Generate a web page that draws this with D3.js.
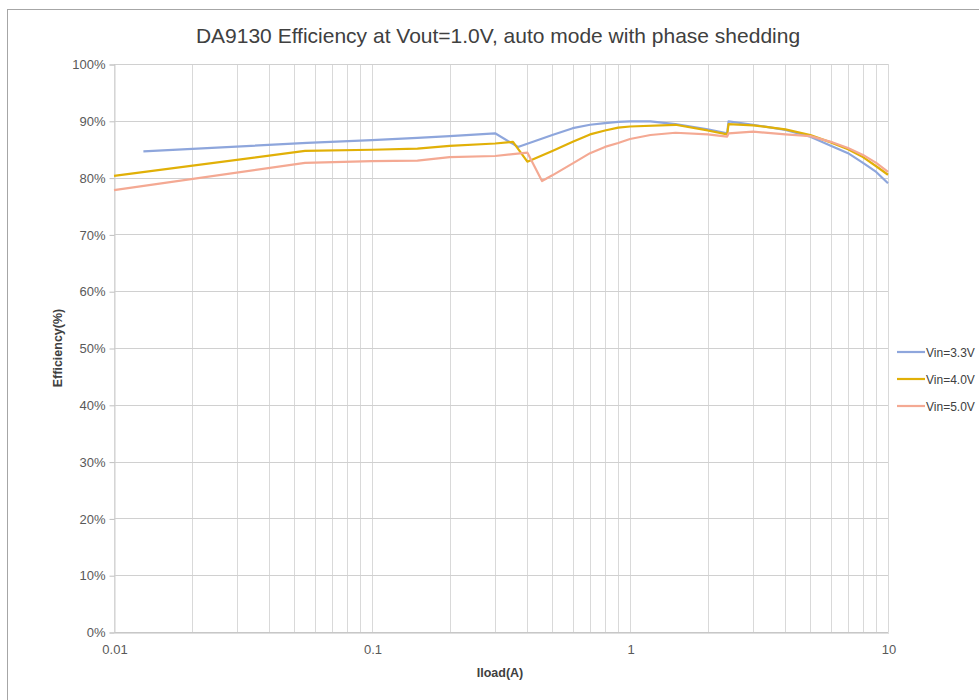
<!DOCTYPE html>
<html>
<head>
<meta charset="utf-8">
<script src="https://cdn.jsdelivr.net/npm/d3@7"></script>
<style>
  body { margin: 0; background: #fff; }
  svg { display: block; font-family: "Liberation Sans", Arial, sans-serif; }
</style>
</head>
<body>
<svg id="chart"></svg>
<script>
// ─── DA9130 efficiency chart ──────────────────────────────

const TITLE = "DA9130 Efficiency at Vout=1.0V, auto mode with phase shedding";
const X_LABEL = "Iload(A)";
const Y_LABEL = "Efficiency(%)";

const X_TICKS = [0.01, 0.1, 1, 10];
const X_TICK_LABELS = ["0.01", "0.1", "1", "10"];
const Y_TICKS = [0, 10, 20, 30, 40, 50, 60, 70, 80, 90, 100];

// Vin=3.3V
const vin33_x = [0.013, 0.056, 0.1, 0.15, 0.2, 0.3, 0.368, 0.5, 0.6, 0.7, 0.8, 0.9, 1, 1.2, 1.5, 2, 2.38, 2.41, 3, 4, 5, 6, 7, 8, 9, 10];
const vin33_y = [84.6, 86.1, 86.6, 87.0, 87.3, 87.8, 85.4, 87.5, 88.7, 89.3, 89.6, 89.8, 89.9, 89.9, 89.4, 88.5, 87.8, 89.9, 89.3, 88.4, 87.2, 85.6, 84.3, 82.6, 81.0, 79.0];

// Vin=4.0V
const vin40_x = [0.01, 0.055, 0.1, 0.15, 0.2, 0.3, 0.352, 0.4, 0.5, 0.6, 0.7, 0.8, 0.9, 1, 1.5, 2, 2.38, 2.41, 3, 4, 5, 6, 7, 8, 9, 10];
const vin40_y = [80.3, 84.7, 84.9, 85.1, 85.6, 86.0, 86.3, 82.8, 84.7, 86.3, 87.6, 88.3, 88.8, 89.0, 89.3, 88.3, 87.6, 89.4, 89.2, 88.5, 87.5, 86.2, 85.0, 83.6, 82.0, 80.5];

// Vin=5.0V
const vin50_x = [0.01, 0.055, 0.1, 0.15, 0.2, 0.3, 0.4, 0.456, 0.5, 0.6, 0.7, 0.8, 0.9, 1, 1.2, 1.5, 2, 2.38, 2.41, 3, 4, 5, 6, 7, 8, 9, 10];
const vin50_y = [77.8, 82.6, 82.9, 83.0, 83.6, 83.8, 84.4, 79.4, 80.4, 82.5, 84.3, 85.4, 86.1, 86.8, 87.5, 87.9, 87.6, 87.2, 87.8, 88.1, 87.6, 87.3, 86.3, 85.2, 84.0, 82.6, 81.0];

const SERIES_NAMES = ["Vin=3.3V", "Vin=4.0V", "Vin=5.0V"];
const SERIES_COLORS = ["#8ea6dc", "#e1b007", "#f4a993"];

const width = 979, height = 700;
const margin = { top: 64, right: 91, bottom: 68, left: 114 };

const svg = d3.select("#chart").attr("width", width).attr("height", height);

// Chart frame (only left and top edges are visible in the window)
svg.append("rect")
  .attr("x", 7.5).attr("y", 9.5)
  .attr("width", 1000).attr("height", 720)
  .attr("fill", "#fff")
  .attr("stroke", "#a6a6a6")
  .attr("stroke-width", 1);

const x = d3.scaleLog()
  .domain([0.01, 10])
  .range([margin.left, width - margin.right]);

const y = d3.scaleLinear()
  .domain([0, 100])
  .range([height - margin.bottom, margin.top]);

// Vertical grid: every minor log step
const minorTicks = [];
[0.01, 0.1, 1].forEach(dec => {
  for (let k = 1; k <= 10; k++) minorTicks.push(dec * k);
});

svg.append("g").attr("class", "x-grid")
  .selectAll("line")
  .data(minorTicks)
  .join("line")
  .attr("x1", d => Math.round(x(d)) + 0.5)
  .attr("x2", d => Math.round(x(d)) + 0.5)
  .attr("y1", y(100))
  .attr("y2", y(0))
  .attr("stroke", "#d9d9d9")
  .attr("stroke-width", 1);

// Horizontal grid
svg.append("g").attr("class", "y-grid")
  .selectAll("line")
  .data(Y_TICKS)
  .join("line")
  .attr("x1", x(0.01))
  .attr("x2", x(10))
  .attr("y1", d => Math.round(y(d)) + 0.5)
  .attr("y2", d => Math.round(y(d)) + 0.5)
  .attr("stroke", "#d0d0d0")
  .attr("stroke-width", 1);

// Axes
const yAxis = d3.axisLeft(y)
  .tickValues(Y_TICKS)
  .tickFormat(d => d + "%")
  .tickSize(5)
  .tickPadding(4);

const yG = svg.append("g")
  .attr("transform", `translate(${x(0.01) + 0.5},0.5)`)
  .call(yAxis);
yG.select(".domain").attr("stroke", "#d0d0d0");
yG.selectAll(".tick line").attr("stroke", "#bfbfbf");
yG.selectAll(".tick text")
  .attr("fill", "#595959")
  .attr("font-size", 13);

const xAxis = d3.axisBottom(x)
  .tickValues(X_TICKS)
  .tickFormat((d, i) => X_TICK_LABELS[i])
  .tickSize(0)
  .tickPadding(12);

const xG = svg.append("g")
  .attr("transform", `translate(0.5,${Math.round(y(0)) + 0.5})`)
  .call(xAxis);
xG.select(".domain").attr("stroke", "#bfbfbf");
xG.selectAll(".tick text")
  .attr("fill", "#595959")
  .attr("font-size", 13);

// Series
const seriesData = [
  d3.zip(vin33_x, vin33_y),
  d3.zip(vin40_x, vin40_y),
  d3.zip(vin50_x, vin50_y),
];

const line = d3.line()
  .x(d => x(d[0]))
  .y(d => y(d[1]));

svg.append("g").attr("class", "series")
  .selectAll("path")
  .data(seriesData)
  .join("path")
  .attr("d", line)
  .attr("fill", "none")
  .attr("stroke", (d, i) => SERIES_COLORS[i])
  .attr("stroke-width", 2.2)
  .attr("stroke-linejoin", "round");

// Title
svg.append("text")
  .attr("x", 498)
  .attr("y", 43)
  .attr("text-anchor", "middle")
  .attr("fill", "#404040")
  .attr("font-size", 21)
  .text(TITLE);

// Axis titles
svg.append("text")
  .attr("x", 500)
  .attr("y", 677)
  .attr("text-anchor", "middle")
  .attr("font-weight", "bold")
  .attr("font-size", 12.5)
  .attr("fill", "#404040")
  .text(X_LABEL);

svg.append("text")
  .attr("transform", "translate(62,348) rotate(-90)")
  .attr("text-anchor", "middle")
  .attr("font-weight", "bold")
  .attr("font-size", 12.5)
  .attr("fill", "#404040")
  .text(Y_LABEL);

// Legend (kept narrow enough to fit inside the window)
const legend = svg.append("g").attr("class", "legend")
  .selectAll("g")
  .data(SERIES_NAMES)
  .join("g")
  .attr("transform", (d, i) => `translate(897,${352 + i * 27})`);

legend.append("line")
  .attr("x1", 0).attr("x2", 28)
  .attr("y1", 0).attr("y2", 0)
  .attr("stroke", (d, i) => SERIES_COLORS[i])
  .attr("stroke-width", 2.2);

legend.append("text")
  .attr("x", 29)
  .attr("y", 4.5)
  .attr("font-size", 12)
  .attr("fill", "#404040")
  .text(d => d);
</script>
</body>
</html>
